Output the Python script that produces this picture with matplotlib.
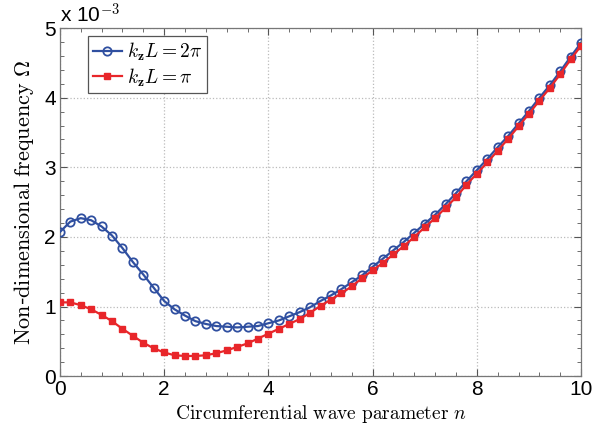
"""
Dispersion curves: non-dimensional frequency vs circumferential wave parameter.
"""
import numpy as np
import matplotlib
matplotlib.use("Agg")
import matplotlib.pyplot as plt
from matplotlib.ticker import MultipleLocator

OUT_PATH = "out.png"

# circumferential wave parameter n (markers every 0.2)
n_values = np.round(np.arange(0, 10.0001, 0.2), 1)

# Omega in units of 1e-3
omega_kzl_2pi = [
    2.07, 2.22, 2.27, 2.24, 2.15, 2.02, 1.84, 1.64, 1.46, 1.27,
    1.08, 0.96, 0.87, 0.79, 0.75, 0.72, 0.71, 0.70, 0.71, 0.72,
    0.76, 0.80, 0.86, 0.92, 0.99, 1.08, 1.16, 1.25, 1.35, 1.45,
    1.57, 1.69, 1.81, 1.93, 2.06, 2.19, 2.32, 2.47, 2.63, 2.80,
    2.96, 3.12, 3.29, 3.45, 3.63, 3.81, 4.00, 4.18, 4.38, 4.59,
    4.79,
]
omega_kzl_pi = [
    1.06, 1.06, 1.02, 0.96, 0.88, 0.79, 0.68, 0.58, 0.48, 0.40,
    0.34, 0.30, 0.29, 0.29, 0.30, 0.33, 0.37, 0.42, 0.47, 0.54,
    0.61, 0.68, 0.75, 0.82, 0.91, 1.01, 1.10, 1.19, 1.29, 1.41,
    1.52, 1.63, 1.75, 1.87, 2.00, 2.14, 2.27, 2.42, 2.57, 2.75,
    2.91, 3.07, 3.24, 3.41, 3.59, 3.77, 3.96, 4.14, 4.34, 4.55,
    4.75,
]

labels = [r"$k_{\mathbf{z}}L = 2\pi$", r"$k_{\mathbf{z}}L = \pi$"]

BLUE = "#2f4fa0"
RED = "#e8262a"


def main():
    plt.rcParams["mathtext.fontset"] = "cm"
    plt.rcParams["font.family"] = ["Liberation Sans", "DejaVu Sans"]

    fig = plt.figure(figsize=(5.93, 4.26), dpi=100)
    ax = fig.add_axes([0.101, 0.117, 0.879, 0.817])

    ax.plot(n_values, omega_kzl_2pi, color=BLUE, lw=1.6, marker="o", ms=6,
            mfc="none", mec=BLUE, mew=1.3, label=labels[0], zorder=3)
    ax.plot(n_values, omega_kzl_pi, color=RED, lw=1.6, marker="s", ms=4,
            mfc=RED, mec=RED, label=labels[1], zorder=3)

    ax.set_xlim(0, 10)
    ax.set_ylim(0, 5)
    ax.xaxis.set_major_locator(MultipleLocator(2))
    ax.xaxis.set_minor_locator(MultipleLocator(0.4))
    ax.yaxis.set_major_locator(MultipleLocator(1))
    ax.yaxis.set_minor_locator(MultipleLocator(0.2))
    ax.tick_params(which="both", direction="in", top=True, right=True,
                   labelsize=15, color="#555555", pad=3)
    ax.tick_params(which="major", length=5)
    ax.tick_params(which="minor", length=3)
    ax.grid(True, which="major", ls=":", color="#bbbbbb", lw=0.9)
    for sp in ax.spines.values():
        sp.set_color("#777777")
        sp.set_linewidth(0.9)

    ax.text(0.0, 1.005, r"x 10$^{-3}$", transform=ax.transAxes,
            fontsize=15, ha="left", va="bottom")

    ax.set_xlabel(r"$\mathrm{Circumferential\ wave\ parameter}\ n$",
                  fontsize=14, labelpad=3)
    ax.set_ylabel(r"$\mathrm{Non}$-$\mathrm{dimensional\ frequency}\ \Omega$",
                  fontsize=16, labelpad=6)

    leg = ax.legend(loc="upper left", bbox_to_anchor=(0.054, 0.977),
                    fontsize=14, fancybox=False, framealpha=1,
                    handlelength=1.5, handletextpad=0.25, borderpad=0.25,
                    labelspacing=0.15, borderaxespad=0)
    leg.get_frame().set_edgecolor("#555555")
    leg.get_frame().set_linewidth(0.9)

    fig.savefig(OUT_PATH, dpi=100)
    plt.close(fig)


if __name__ == "__main__":
    main()
